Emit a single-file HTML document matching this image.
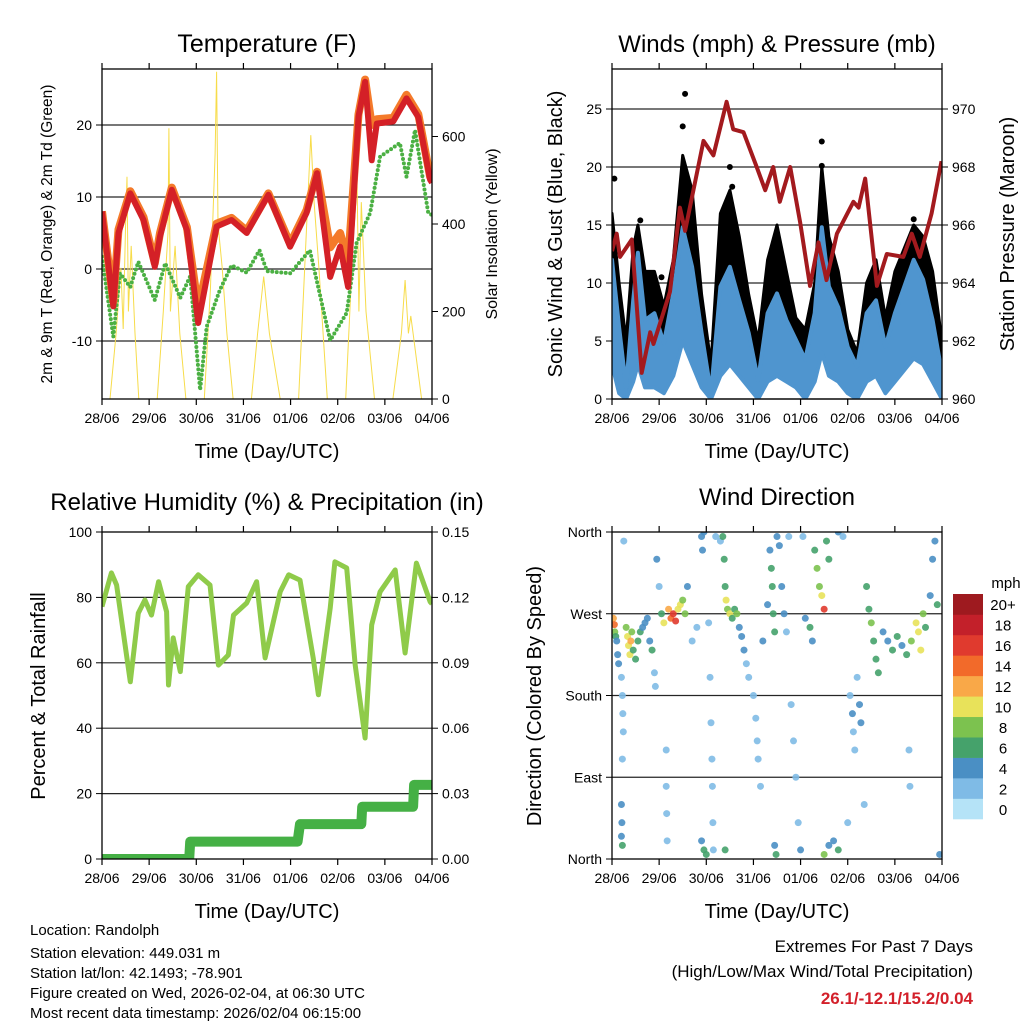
<!DOCTYPE html>
<html><head><meta charset="utf-8"><style>
body{margin:0;background:#fff}
svg{display:block;font-family:"Liberation Sans",sans-serif}
</style></head><body>
<svg id="s" width="1024" height="1024" viewBox="0 0 1024 1024">
<defs>
<clipPath id="c1"><rect x="102" y="69" width="330" height="330"/></clipPath>
<clipPath id="c2"><rect x="612" y="69" width="330" height="330"/></clipPath>
<clipPath id="c3"><rect x="102" y="532" width="330" height="327"/></clipPath>
<clipPath id="c4"><rect x="612" y="532" width="330" height="327"/></clipPath>
</defs>
<g id="g"></g>
<g font-size="15" fill="#000">
<text x="30" y="935">Location: Randolph</text>
<text x="30" y="958">Station elevation: 449.031 m</text>
<text x="30" y="978">Station lat/lon: 42.1493; -78.901</text>
<text x="30" y="998">Figure created on Wed, 2026-02-04, at 06:30 UTC</text>
<text x="30" y="1018">Most recent data timestamp: 2026/02/04 06:15:00</text>
</g>
<g text-anchor="end">
<text x="973" y="952" font-size="17">Extremes For Past 7 Days</text>
<text x="973" y="977" font-size="17">(High/Low/Max Wind/Total Precipitation)</text>
<text x="973" y="1004" font-size="17" font-weight="bold" fill="#d3202a">26.1/-12.1/15.2/0.04</text>
</g>
</svg>
<script>
const dayLabels=["28/06","29/06","30/06","31/06","01/06","02/06","03/06","04/06"];
// Temperature
const tempT=[0,0.24,0.35,0.6,0.88,1.12,1.23,1.48,1.8,2.04,2.43,2.75,3.07,3.53,3.99,4.34,4.56,4.84,5.05,5.22,5.44,5.58,5.72,5.83,6.18,6.46,6.71,6.96,7];
const temp2m=[8,-5.2,5,10.5,6.8,0.3,4.5,11,5.4,-7.5,5.9,6.8,5,10.3,3.1,7.8,13.3,-1.1,3.1,-2.5,21.2,26,15.1,20.2,20.5,23.7,21.1,12.4,12];
const temp9m=[8,-4.5,5.5,10.8,7.2,0.8,5,11.3,5.8,-5.5,6.3,7.1,5.3,10.5,3.5,8.2,13.5,3,5,1,21.5,26.3,20,20.8,21,24.2,21.5,12.8,12.4];
const dewT=[0,0.24,0.38,0.6,0.77,1.12,1.34,1.66,1.87,2.08,2.22,2.5,2.75,3.07,3.34,3.5,3.99,4.41,4.84,5.19,5.4,5.69,5.9,6.32,6.46,6.64,6.92,7];
const dewVals=[1.7,-9.4,-0.6,-2.5,1,-4.3,0.8,-4,-1,-16.8,-8,-2.9,0.5,-0.5,2.6,-0.3,-0.6,2.6,-9.9,-6.1,3.6,7.8,15.6,17.5,12.8,19.3,7.8,7.5];
const insT=[0,0.17,0.3,0.4,0.45,0.5,0.53,0.56,0.62,0.7,0.78,1.17,1.3,1.4,1.42,1.45,1.55,1.65,1.78,2.17,2.3,2.4,2.43,2.46,2.55,2.65,2.78,3.17,3.3,3.43,3.55,3.78,4.17,4.3,4.43,4.5,4.6,4.78,5.17,5.3,5.4,5.45,5.5,5.6,5.78,6.17,6.35,6.43,6.5,6.55,6.6,6.78,7];
const insVals=[0,0,150,300,160,400,508,200,350,150,0,0,200,380,619,200,350,150,0,0,250,560,748,400,300,150,0,0,150,280,150,0,0,300,603,450,300,0,0,300,577,200,450,200,0,0,150,272,150,190,150,0,0];
const tempTicks=[-10,0,10,20], insTicks=[0,200,400,600];
// Winds
const windT=[0,0.15,0.3,0.45,0.55,0.7,0.9,1.1,1.3,1.5,1.7,1.9,2.1,2.3,2.5,2.7,2.9,3.1,3.3,3.5,3.7,3.9,4.1,4.3,4.45,4.6,4.8,5.0,5.2,5.4,5.6,5.8,6.0,6.2,6.4,6.6,6.8,7.0];
const windHigh=[12,6.2,1,8.5,12.6,6.8,7.4,4.8,9.1,14.8,11.4,5.7,0.5,9.7,11.4,8.5,5.7,1.6,7.4,9.1,6.8,5.1,3.4,7.4,14.8,9.7,7.9,4.5,2.8,7.4,8.5,4.5,7.4,9.7,12,10.3,6.8,2.2];
const windLow=[3,0.5,0,1.5,3,1,1,0.5,2,5,3,1,0,2,3,2,1,0,1.5,2,1.5,1,0,1.5,4,2,1.5,0.5,0,1.5,2,0.5,1.5,2.5,3.5,3,1.5,0];
const gustHigh=[16,10,5,13,15,11,11,8,12,21,18,9,3,16,18,14,9,5,12,15,11,7,6,10,20,14,11,6,4,10,12,7,11,13,15,14,11,5];
const gustOutT=[1.55,1.5,2.55,2.5,4.45,4.45,0.6,6.4,1.05,0.05];
const gustOutV=[26.3,23.5,18.3,20,20.1,22.2,15.4,15.5,10.5,19];
const presT=[0,0.1,0.17,0.42,0.63,0.81,0.88,1.23,1.44,1.55,1.94,2.15,2.43,2.57,2.79,3.07,3.25,3.42,3.56,3.78,3.99,4.2,4.38,4.55,4.77,5.12,5.23,5.37,5.62,5.83,6.18,6.36,6.53,6.78,6.99];
const presVals=[965.1,965.7,964.9,965.5,960.9,962.3,961.9,963.7,966.6,965.8,968.9,968.4,970.25,969.3,969.2,968.0,967.2,968.0,966.8,968.0,966.1,963.9,965.4,964.1,965.7,966.8,966.6,967.6,963.9,965.0,964.9,965.7,964.9,966.4,968.2];
const windTicks=[0,5,10,15,20,25], presTicks=[960,962,964,966,968,970];
// RH & precip
const rhT=[0,0.2,0.31,0.6,0.77,0.91,1.05,1.2,1.37,1.41,1.51,1.66,1.83,2.04,2.29,2.47,2.68,2.79,3.07,3.28,3.46,3.78,3.96,4.2,4.48,4.59,4.84,4.94,5.19,5.37,5.58,5.72,5.9,6.22,6.43,6.67,6.96,7];
const rhVals=[77.2,87.5,83.8,54.2,75.2,79.2,74.6,84.8,75.6,53.2,67.6,57.3,83.3,86.9,83.8,59.3,62.4,74.6,78.3,84.8,61.5,81.7,86.9,85.3,61.5,50.2,76.7,90.9,89,59.3,37,71.6,81.7,88.4,63,90.5,78.7,78];
const precT=[0,1.85,1.87,4.15,4.2,5.5,5.52,6.6,6.62,7];
const precVals=[0,0,0.008,0.008,0.016,0.016,0.024,0.024,0.034,0.034];
const rhTicks=[0,20,40,60,80,100], precTicks=["0.00","0.03","0.06","0.09","0.12","0.15"];
// Wind direction
const dirT=[0.03,0.05,0.06,0.08,0.1,0.12,0.14,0.2,0.22,0.23,0.24,0.22,0.2,0.21,0.2,0.22,0.25,0.3,0.33,0.35,0.38,0.4,0.42,0.45,0.5,0.55,0.6,0.65,0.7,0.75,0.8,0.85,0.9,0.92,0.95,1.0,1.05,1.1,1.15,1.15,1.16,1.17,1.2,1.25,1.3,1.35,1.4,1.45,1.5,1.55,1.6,1.7,1.8,1.9,1.92,1.95,1.9,1.95,2.0,2.05,2.08,2.1,2.12,2.13,2.14,2.15,2.2,2.3,2.35,2.38,2.4,2.42,2.45,2.5,2.55,2.6,2.65,2.7,2.75,2.8,2.85,2.9,2.4,3.0,3.05,3.08,3.1,3.15,3.2,3.3,3.35,3.38,3.4,3.42,3.45,3.5,3.55,3.45,3.48,3.6,3.65,3.7,3.75,3.8,3.85,3.9,3.95,4.0,4.05,4.1,4.2,4.25,4.3,4.35,4.4,4.45,4.5,4.55,4.6,4.5,4.6,4.7,4.8,4.8,4.9,5.0,5.05,5.1,5.12,5.15,5.2,5.25,5.28,5.35,5.4,5.45,5.5,5.55,5.6,5.65,5.75,5.85,5.95,6.05,6.15,6.25,6.35,6.45,6.5,6.55,6.6,6.65,6.75,6.8,6.85,6.9,6.95,6.3,6.32];
const dirVals=[265,258,250,245,240,225,215,200,180,160,140,110,60,40,25,15,350,255,245,235,225,240,250,230,220,240,250,255,260,265,240,230,205,190,330,300,270,260,120,80,50,20,275,265,270,262,275,280,285,270,300,240,255,355,340,360,20,10,5,260,200,150,110,80,40,10,355,350,355,330,300,285,275,270,265,275,270,255,245,230,215,200,10,180,155,130,110,80,240,280,340,320,300,270,250,355,345,15,5,300,270,250,355,170,130,90,40,10,355,265,255,240,340,320,300,290,275,350,330,5,15,20,10,360,355,40,180,160,140,120,200,170,150,60,300,275,260,240,220,205,250,240,230,245,235,225,240,260,250,230,270,255,290,330,350,280,5,120,80];
const dirSpeeds=[12,14,8,6,4,4,3,1,1,1,1,2,3,4,4,6,2,8,10,10,10,12,8,6,6,6,6,4,4,4,4,6,1,1,3,2,6,10,1,2,2,1,12,14,16,16,10,10,8,8,3,1,1,4,3,4,4,6,6,2,1,1,2,2,2,2,1,1,6,6,6,10,8,10,6,6,8,4,4,4,2,2,6,1,1,2,1,1,4,4,4,6,6,6,6,4,4,4,6,4,4,2,2,1,1,1,2,4,1,4,6,4,6,8,8,10,16,6,6,8,4,4,6,4,2,2,2,4,2,2,1,4,4,1,6,6,8,6,6,6,4,4,6,6,4,6,8,10,10,10,8,6,4,4,4,6,4,1,2];
const dirTicks=["North","East","South","West","North"];
const speedLabels=["0","2","4","6","8","10","12","14","16","18","20+"];
const speedColors=["#b5e3f7","#7fbbe6","#4a8fc4","#45a26b","#7cc24f","#e8e25a","#f9a848","#f26a2a","#e03a2e","#c3202a","#9e1a1f"];

const NS="http://www.w3.org/2000/svg";
const G=document.getElementById('g');
function mk(tag,attrs,parent){const e=document.createElementNS(NS,tag);for(const k in attrs)e.setAttribute(k,attrs[k]);(parent||G).appendChild(e);return e;}
function txt(x,y,s,size,anchor,rot,parent){const e=mk('text',{x:x,y:y,'font-size':size,'text-anchor':anchor||'middle'},parent);if(rot)e.setAttribute('transform','rotate(-90 '+x+' '+y+')');e.textContent=s;return e;}
function panel(x0,y0,w,h){
  const P={x0:x0,y0:y0,w:w,h:h,X:t=>x0+t/7*w};
  P.g=mk('g',{});
  
  
  return P;
}
function frame(P,name){
  const r=mk('rect',{x:P.x0,y:P.y0,width:P.w,height:P.h,fill:'none',stroke:'#000','stroke-width':1.3},P.g);
  
  
  for(let i=0;i<8;i++){
    const x=P.X(i);
    mk('line',{x1:x,x2:x,y1:P.y0+P.h,y2:P.y0+P.h+6,stroke:'#000','stroke-width':1.2},P.g);
    mk('line',{x1:x,x2:x,y1:P.y0,y2:P.y0-6,stroke:'#000','stroke-width':1.2},P.g);
    const l=txt(x,P.y0+P.h+24,dayLabels[i],14,'middle',false,P.g);
    
    
  }
  const xl=txt(P.x0+P.w/2,P.y0+P.h+59,'Time (Day/UTC)',20,'middle',false,P.g);
  
  
}
function grid(P,y){mk('line',{x1:P.x0,x2:P.x0+P.w,y1:y,y2:y,stroke:'#000','stroke-width':1.2,opacity:0.85},P.g);}
function leftTick(P,y,s){mk('line',{x1:P.x0-6,x2:P.x0,y1:y,y2:y,stroke:'#000'},P.g);const l=txt(P.x0-10,y+5,s,14,'end',false,P.g);}
function rightTick(P,y,s){mk('line',{x1:P.x0+P.w,x2:P.x0+P.w+6,y1:y,y2:y,stroke:'#000'},P.g);const l=txt(P.x0+P.w+10,y+5,s,14,'start',false,P.g);}
function pathD(ts,vs,X,Y){return ts.map((t,i)=>(i?'L':'M')+X(t).toFixed(1)+','+Y(vs[i]).toFixed(1)).join('');}

// ---- Panel 1 Temperature
{
const P=panel(102,69,330,330);
const Y=v=>269-v*7.2, Y2=v=>399-v*0.4375;
tempTicks.forEach(v=>{grid(P,Y(v));leftTick(P,Y(v),String(v));});
insTicks.forEach(v=>rightTick(P,Y2(v),String(v)));
const g=mk('g',{'clip-path':'url(#c1)'},P.g);
let e=mk('path',{d:pathD(insT,insVals,P.X,Y2),fill:'none',stroke:'#f7dc4a','stroke-width':1},g);

e=mk('path',{d:pathD(dewT,dewVals,P.X,Y),fill:'none',stroke:'#4bb043','stroke-width':4,'stroke-dasharray':'0 4.5','stroke-linecap':'round'},g);

e=mk('path',{d:pathD(tempT,temp9m,P.X,Y),fill:'none',stroke:'#f47a2a','stroke-width':8,'stroke-linejoin':'round'},g);

e=mk('path',{d:pathD(tempT,temp2m,P.X,Y),fill:'none',stroke:'#d42027','stroke-width':6,'stroke-linejoin':'round'},g);

frame(P,'temperature');
e=txt(267,52,'Temperature (F)',25,'middle',false,P.g);
e=txt(52,234,'2m & 9m T (Red, Orange) & 2m Td (Green)',15.5,'middle',true,P.g);
e=txt(497,234,'Solar Insolation (Yellow)',16,'middle',true,P.g);
}
// ---- Panel 2 Winds
{
const P=panel(612,69,330,330);
const Y=v=>399-v*11.6, Y2=v=>399-(v-960)*29;
windTicks.forEach(v=>{grid(P,Y(v));leftTick(P,Y(v),String(v));});
presTicks.forEach(v=>rightTick(P,Y2(v),String(v)));
const g=mk('g',{'clip-path':'url(#c2)'},P.g);
const band=(hi,lo)=>pathD(windT,hi,P.X,Y)+windT.slice().reverse().map((t,i)=>'L'+P.X(t).toFixed(1)+','+Y(lo[lo.length-1-i]).toFixed(1)).join('')+'Z';
let e=mk('path',{d:band(gustHigh,windLow),fill:'#000',stroke:'#000','stroke-width':3,'stroke-linejoin':'round'},g);

gustOutT.forEach((t,i)=>{const c=mk('circle',{cx:P.X(t),cy:Y(gustOutV[i]),r:3,fill:'#000'},g);

});
e=mk('path',{d:band(windHigh,windLow),fill:'#4f95cf',stroke:'#4f95cf','stroke-width':4,'stroke-linejoin':'round'},g);

e=mk('path',{d:pathD(presT,presVals,P.X,Y2),fill:'none',stroke:'#a31a1e','stroke-width':4,'stroke-linejoin':'round'},g);

frame(P,'winds');
e=txt(777,52,'Winds (mph) & Pressure (mb)',24,'middle',false,P.g);
e=txt(562,234,'Sonic Wind & Gust (Blue, Black)',20,'middle',true,P.g);
e=txt(1014,234,'Station Pressure (Maroon)',20,'middle',true,P.g);
}
// ---- Panel 3 RH
{
const P=panel(102,532,330,327);
const Y=v=>859-v*3.27, Y2=v=>859-v*2180;
rhTicks.forEach((v,i)=>{if(i>0&&i<5)grid(P,Y(v));leftTick(P,Y(v),String(v));rightTick(P,Y(v),precTicks[i]);});
const g=mk('g',{'clip-path':'url(#c3)'},P.g);
let e=mk('path',{d:pathD(rhT,rhVals,P.X,Y),fill:'none',stroke:'#8fcb4a','stroke-width':5,'stroke-linejoin':'round'},g);

e=mk('path',{d:pathD(precT,precVals,P.X,Y2),fill:'none',stroke:'#45b045','stroke-width':10,'stroke-linejoin':'round','stroke-linecap':'round'},g);

frame(P,'humidity');
e=txt(267,510,'Relative Humidity (%) & Precipitation (in)',24,'middle',false,P.g);
e=txt(45,696,'Percent & Total Rainfall',20,'middle',true,P.g);
}
// ---- Panel 4 Wind direction
{
const P=panel(612,532,330,327);
const Y=d=>859-d/360*327;
dirTicks.forEach((s,i)=>{const y=Y(i*90);if(i>0&&i<4)grid(P,y);leftTick(P,y,s);});
const g=mk('g',{'clip-path':'url(#c4)'},P.g);
dirT.forEach((t,i)=>{const k=Math.min(10,Math.round(dirSpeeds[i]/2));
const c=mk('circle',{cx:P.X(t),cy:Y(dirVals[i]),r:3.5,fill:speedColors[k],opacity:0.9},g);

});
frame(P,'direction');
let e=txt(777,505,'Wind Direction',24,'middle',false,P.g);
e=txt(541,696,'Direction (Colored By Speed)',20,'middle',true,P.g);
const cb=mk('g',{},P.g);


const bh=225/11;
speedColors.forEach((c,i)=>{const y=819-(i+1)*bh;
const r=mk('rect',{x:953,y:y,width:30,height:bh+0.3,fill:c},cb);


const l=txt(1003,y+bh/2+6,speedLabels[i],15,'middle',false,cb);

});
e=txt(1006,588,'mph',15,'middle',false,cb);
}
</script>
</body></html>
